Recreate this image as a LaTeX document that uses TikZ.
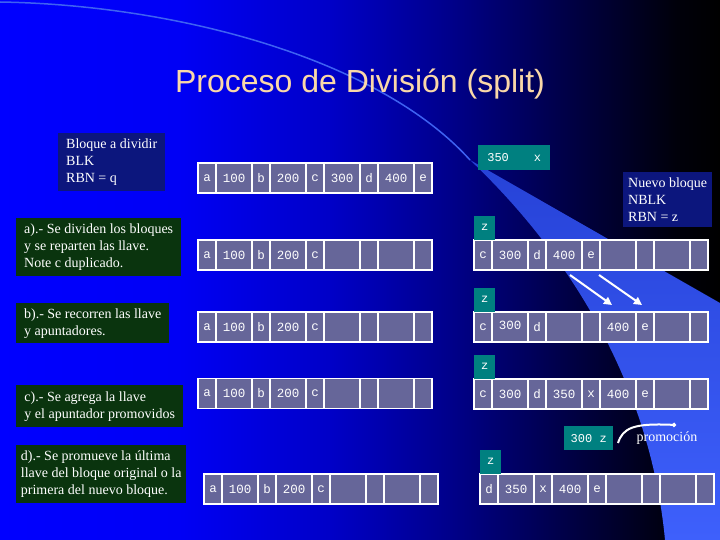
\documentclass[tikz,border=0pt]{standalone}
\usepackage{fontspec}
\setmainfont{Liberation Serif}
\newfontfamily\titulofont{Liberation Sans}
\newfontfamily\monofont{Liberation Mono}
\usetikzlibrary{arrows.meta,positioning}

\definecolor{celda}{RGB}{102,102,153}
\definecolor{verdeazul}{RGB}{0,128,128}
\definecolor{azulcaja}{RGB}{12,22,125}
\definecolor{verdecaja}{RGB}{10,52,14}
\definecolor{titulo}{RGB}{250,216,168}
\definecolor{arco}{RGB}{62,98,242}
\definecolor{estelaarriba}{RGB}{38,66,215}
\definecolor{estelaabajo}{RGB}{62,96,252}

\pgfdeclarehorizontalshading{fondo}{100bp}{rgb(0bp)=(0,0,1); rgb(25bp)=(0,0,1);
  rgb(37.5bp)=(0,0,0.96); rgb(48bp)=(0,0,0.78); rgb(56bp)=(0,0,0.55);
  rgb(64.5bp)=(0,0,0.27); rgb(72bp)=(0,0,0.04); rgb(75bp)=(0,0,0); rgb(100bp)=(0,0,0)}

\begin{document}
\begin{tikzpicture}[x=1pt,y=-1pt,
  celda/.style={draw=white,line width=1.5pt,fill=celda,minimum height=30pt,inner sep=0pt,outer sep=0pt,
    text=white,font=\monofont\fontsize{12.5}{14}\selectfont},
  marca/.style={fill=verdeazul,text=white,inner sep=0pt,minimum width=21pt,minimum height=24pt,
    font=\monofont\fontsize{12}{14}\selectfont},
  caja/.style={text=white,align=left,inner xsep=4pt,anchor=north west,font=\fontsize{14}{17}\selectfont},
  flecha/.style={white,line width=2pt,-{Triangle[length=8pt,width=8pt]}}]

% fondo
\useasboundingbox (0,0) rectangle (720,540);
\shade[shading=fondo] (0,0) rectangle (720,540);
\begin{scope}
  \clip (0,0) rectangle (720,540);
  \shade[top color=estelaarriba,bottom color=estelaabajo] (470,160) .. controls (565,250) and (650,380) .. (665,540)
    -- (720,540) -- (720,303) -- cycle;
  \draw[arco,line width=1.5pt] (0,2) .. controls (180,5) and (380,60) .. (470,160);
\end{scope}

% titulo
\node[font=\titulofont\fontsize{32}{38}\selectfont,text=titulo,anchor=base] (titulo) at (360,93) {Proceso de División (split)};

% cajas de texto
\node[caja,fill=azulcaja,minimum width=107pt,minimum height=58pt] (bloque) at (58,133) {Bloque a dividir\\BLK\\RBN = q};
\node[caja,fill=verdecaja,minimum width=165pt,minimum height=58pt] (pasoa) at (16,218) {a).- Se dividen los bloques\\y se reparten las llave.\\Note c duplicado.};
\node[caja,fill=verdecaja,minimum width=153pt,minimum height=40pt] (pasob) at (16,303) {b).- Se recorren las llave\\y apuntadores.};
\node[caja,fill=verdecaja,minimum width=167pt,minimum height=42pt] (pasoc) at (16,385) {c).- Se agrega la llave\\y el apuntador promovidos};
\node[caja,fill=verdecaja,minimum width=170pt,minimum height=58pt] (pasod) at (16,445) {d).- Se promueve la última\\llave del bloque original o la\\primera del nuevo bloque.};
\node[caja,fill=azulcaja,minimum width=89pt,minimum height=55pt] (nuevo) at (623,172) {Nuevo bloque\\NBLK\\RBN = z};

% bloque original
\foreach \t [count=\i] in {a,100,b,200,c,300,d,400,e} {
  \pgfmathsetmacro\ancho{mod(\i,2)==1 ? 18 : 36}
  \node[celda,minimum width=\ancho pt] (f0\i) at ({198+(\i-1)*27+9},178) {\t};
}

% a) bloques divididos
\foreach \t [count=\i] in {a,100,b,200,c,{},{},{},{}} {
  \pgfmathsetmacro\ancho{mod(\i,2)==1 ? 18 : 36}
  \node[celda,minimum width=\ancho pt] (fa\i) at ({198+(\i-1)*27+9},255) {\t};
}
\foreach \t [count=\i] in {c,300,d,400,e,{},{},{},{}} {
  \pgfmathsetmacro\ancho{mod(\i,2)==1 ? 18 : 36}
  \node[celda,minimum width=\ancho pt] (na\i) at ({474+(\i-1)*27+9},255) {\t};
}

% b) se recorren
\foreach \t [count=\i] in {a,100,b,200,c,{},{},{},{}} {
  \pgfmathsetmacro\ancho{mod(\i,2)==1 ? 18 : 36}
  \node[celda,minimum width=\ancho pt] (fb\i) at ({198+(\i-1)*27+9},327) {\t};
}
\foreach \t [count=\i] in {c,\raisebox{3pt}{300},d,{},{},400,e,{},{}} {
  \pgfmathsetmacro\ancho{mod(\i,2)==1 ? 18 : 36}
  \node[celda,minimum width=\ancho pt] (nb\i) at ({474+(\i-1)*27+9},327) {\t};
}

% c) se agrega
\foreach \t [count=\i] in {a,100,b,200,c,{},{},{},{}} {
  \pgfmathsetmacro\ancho{mod(\i,2)==1 ? 18 : 36}
  \node[celda,minimum width=\ancho pt] (fc\i) at ({198+(\i-1)*27+9},393.5) {\t};
}
\foreach \t [count=\i] in {c,300,d,350,x,400,e,{},{}} {
  \pgfmathsetmacro\ancho{mod(\i,2)==1 ? 18 : 36}
  \node[celda,minimum width=\ancho pt] (nc\i) at ({474+(\i-1)*27+9},394) {\t};
}

% d) se promueve
\foreach \t [count=\i] in {a,100,b,200,c,{},{},{},{}} {
  \pgfmathsetmacro\ancho{mod(\i,2)==1 ? 18 : 36}
  \node[celda,minimum width=\ancho pt] (fd\i) at ({204+(\i-1)*27+9},489) {\t};
}
\foreach \t [count=\i] in {d,350,x,400,e,{},{},{},{}} {
  \pgfmathsetmacro\ancho{mod(\i,2)==1 ? 18 : 36}
  \node[celda,minimum width=\ancho pt] (nd\i) at ({480+(\i-1)*27+9},489) {\t};
}

% marcas z
\node[marca,anchor=south west] (zna) at (na1.north west) {z};
\node[marca,anchor=south west] (znb) at (nb1.north west) {z};
\node[marca,anchor=south west] (znc) at (nc1.north west) {z};
\node[marca,anchor=south west] (znd) at (nd1.north west) {z};

\node[marca,minimum width=72pt,minimum height=25pt,anchor=north west] (llavex) at (478,145) {350\hspace{25pt}x};
\node[marca,minimum width=49pt,minimum height=24pt,anchor=north west] (llavez) at (564,426) {300 z};

% flechas
\draw[flecha] ([xshift=6pt,yshift=-5pt]na4.south) -- ([xshift=-6pt,yshift=7pt]nb6.north);
\draw[flecha] ([xshift=8pt,yshift=-5pt]na5.south) -- ([xshift=-3pt,yshift=7pt]nb7.north);

\node[text=white,font=\fontsize{14}{17}\selectfont] (promo) at (667,438) {promoción};
\coordinate (promoini) at (618,443);
\coordinate (promofin) at (676,425);
\draw[white,line width=2pt,-{Circle[length=4pt]}] (promoini) .. controls (623,428) and (633,423) .. (promofin);

\end{tikzpicture}
\end{document}
